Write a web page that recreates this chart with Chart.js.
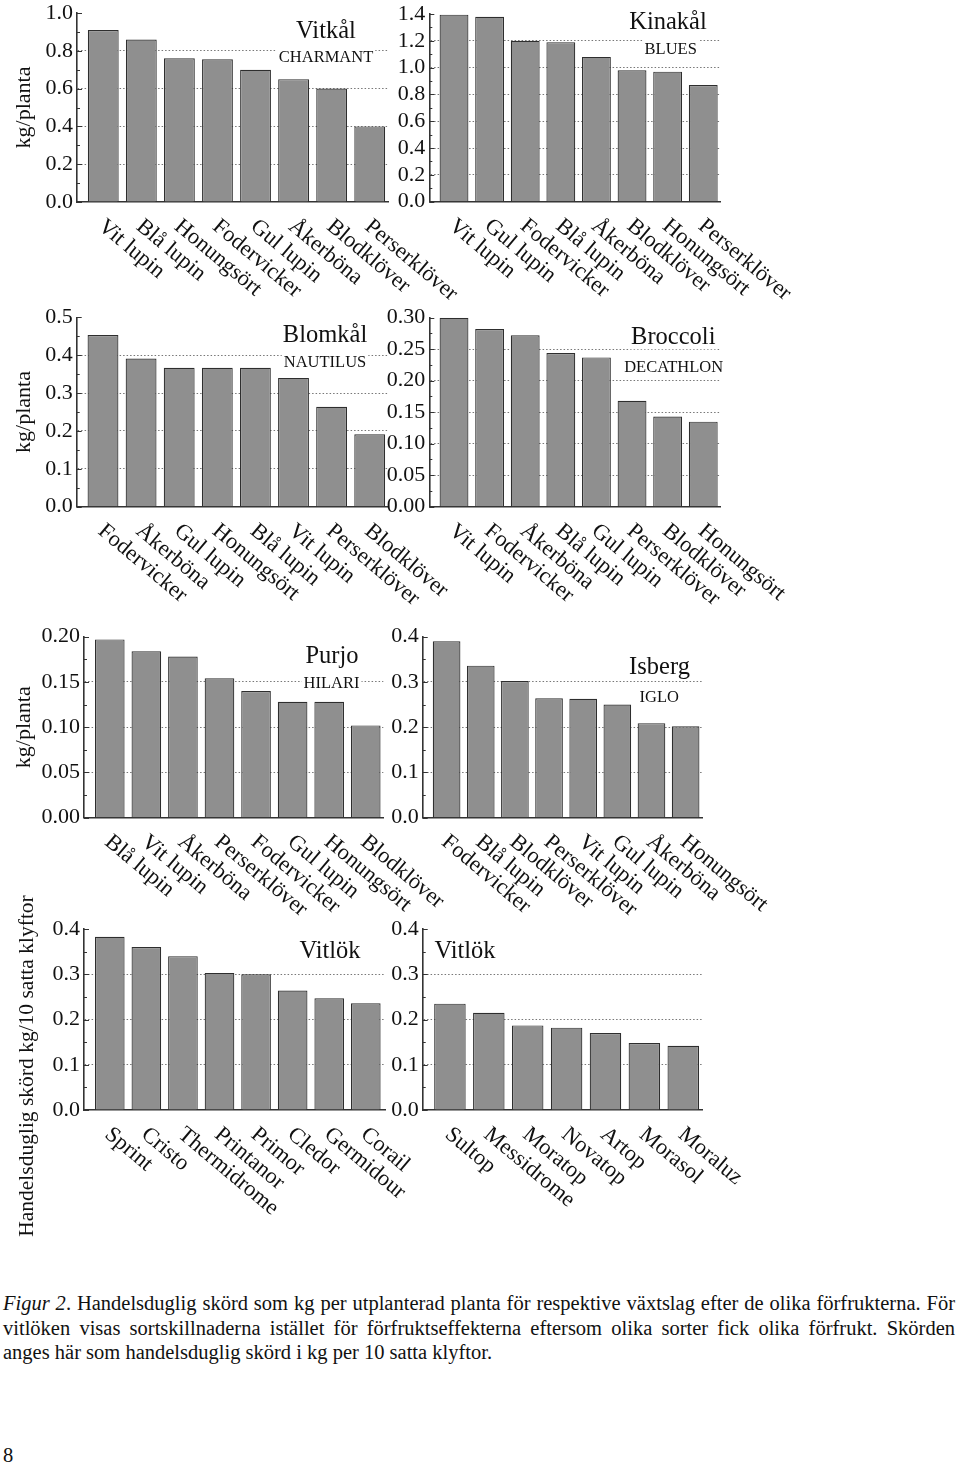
<!DOCTYPE html>
<html>
<head>
<meta charset="utf-8">
<script src="https://cdn.jsdelivr.net/npm/chart.js@4.4.0/dist/chart.umd.min.js"></script>
<style>
  html, body { margin: 0; padding: 0; background: #fff; }
  body { width: 960px; height: 1465px; position: relative; overflow: hidden;
         font-family: "Liberation Serif", "Times New Roman", serif; color: #111; }
  canvas { position: absolute; }
  .cap { position: absolute; left: 3px; font-size: 20.5px; line-height: 1; white-space: nowrap; }
  .j { width: 952px; text-align: justify; text-align-last: justify; }
</style>
</head>
<body>
<div id="ytor"></div>
<div class="cap j" style="top:1293px"><i>Figur 2</i>. Handelsduglig skörd som kg per utplanterad planta för respektive växtslag efter de olika förfrukterna. För</div>
<div class="cap j" style="top:1318px">vitlöken visas sortskillnaderna istället för förfruktseffekterna eftersom olika sorter fick olika förfrukt. Skörden</div>
<div class="cap" style="top:1342px">anges här som handelsduglig skörd i kg per 10 satta klyftor.</div>
<div class="cap" style="top:1445px">8</div>

<script>
// Data per panel (kg/planta resp. kg/10 satta klyftor)
const vitkalKat = ["Vit lupin", "Blå lupin", "Honungsört", "Fodervicker", "Gul lupin", "Åkerböna", "Blodklöver", "Perserklöver"];
const vitkalVarden = [0.91, 0.86, 0.76, 0.755, 0.70, 0.65, 0.60, 0.40];

const kinakalKat = ["Vit lupin", "Gul lupin", "Fodervicker", "Blå lupin", "Åkerböna", "Blodklöver", "Honungsört", "Perserklöver"];
const kinakalVarden = [1.395, 1.38, 1.20, 1.19, 1.08, 0.98, 0.97, 0.87];

const blomkalKat = ["Fodervicker", "Åkerböna", "Gul lupin", "Honungsört", "Blå lupin", "Vit lupin", "Perserklöver", "Blodklöver"];
const blomkalVarden = [0.453, 0.391, 0.367, 0.367, 0.367, 0.340, 0.264, 0.191];

const broccoliKat = ["Vit lupin", "Fodervicker", "Åkerböna", "Blå lupin", "Gul lupin", "Perserklöver", "Blodklöver", "Honungsört"];
const broccoliVarden = [0.300, 0.282, 0.272, 0.244, 0.237, 0.168, 0.143, 0.135];

const purjoKat = ["Blå lupin", "Vit lupin", "Åkerböna", "Perserklöver", "Fodervicker", "Gul lupin", "Honungsört", "Blodklöver"];
const purjoVarden = [0.197, 0.184, 0.178, 0.154, 0.140, 0.128, 0.128, 0.102];

const isbergKat = ["Fodervicker", "Blå lupin", "Blodklöver", "Perserklöver", "Vit lupin", "Gul lupin", "Åkerböna", "Honungsört"];
const isbergVarden = [0.390, 0.336, 0.302, 0.264, 0.263, 0.250, 0.209, 0.202];

const vitlok1Sorter = ["Sprint", "Cristo", "Thermidrome", "Printanor", "Primor", "Cledor", "Germidour", "Corail"];
const vitlok1Varden = [0.383, 0.360, 0.340, 0.303, 0.300, 0.264, 0.247, 0.236];

const vitlok2Sorter = ["Sultop", "Messidrome", "Moratop", "Novatop", "Artop", "Morasol", "Moraluz"];
const vitlok2Varden = [0.235, 0.215, 0.187, 0.182, 0.170, 0.148, 0.142];

// y-axlar: max, steg, decimaler
const yMax = [1.0, 1.4, 0.5, 0.30, 0.20, 0.4, 0.4, 0.4];
const ySteg = [0.2, 0.2, 0.1, 0.05, 0.05, 0.1, 0.1, 0.1];
const yDec = [1, 1, 1, 2, 2, 1, 1, 1];

// Layout: canvas [x, y, b, h], ritytan [vänster, topp, höger, botten] i sidkoordinater
const paneler = [
  { kat: vitkalKat, v: vitkalVarden, canvas: [0, -10, 480, 325], yta: [77, 13, 388, 202], xr: [-0.69, 7.48],
    texter: [["Vitkål", 326, 38.3, 24.5], ["CHARMANT", 326, 62.3, 16.5]], ytitel: "kg/planta" },
  { kat: kinakalKat, v: kinakalVarden, canvas: [360, -10, 600, 325], yta: [429.3, 14, 720.7, 201.7], xr: [-0.694, 7.49],
    texter: [["Kinakål", 668, 29.3, 24.5], ["BLUES", 670.7, 54, 16.5]] },
  { kat: blomkalKat, v: blomkalVarden, canvas: [0, 290, 480, 330], yta: [76.7, 317.3, 388, 506.7], xr: [-0.69, 7.48],
    texter: [["Blomkål", 325, 341.7, 24.5], ["NAUTILUS", 325, 366.7, 16.5]], ytitel: "kg/planta" },
  { kat: broccoliKat, v: broccoliVarden, canvas: [360, 290, 600, 330], yta: [429.3, 317.7, 720.7, 506.7], xr: [-0.694, 7.49],
    texter: [["Broccoli", 673.3, 344.3, 24.5], ["DECATHLON", 673.7, 372, 16.5]] },
  { kat: purjoKat, v: purjoVarden, canvas: [0, 605, 480, 325], yta: [84, 636.7, 383.3, 817.7], xr: [-0.705, 7.48],
    texter: [["Purjo", 332, 662.7, 24.5], ["HILARI", 331.5, 687.7, 16.5]], ytitel: "kg/planta" },
  { kat: isbergKat, v: isbergVarden, canvas: [360, 605, 600, 325], yta: [422.7, 636.7, 702.7, 817.7], xr: [-0.70, 7.50],
    texter: [["Isberg", 659.5, 674.3, 24.5], ["IGLO", 659.2, 701.7, 16.5]] },
  { kat: vitlok1Sorter, v: vitlok1Varden, canvas: [0, 885, 480, 375], yta: [84, 929, 385, 1110], xr: [-0.705, 7.525],
    texter: [["Vitlök", 330, 958.3, 24.5]],
    langTitel: ["Handelsduglig skörd kg/10 satta klyftor", 27, 1066, 21.5] },
  { kat: vitlok2Sorter, v: vitlok2Varden, canvas: [360, 885, 600, 375], yta: [422.7, 929, 702.7, 1110], xr: [-0.70, 6.5],
    texter: [["Vitlök", 465, 958.3, 24.5]] }
];

const FONT = '"Liberation Serif", "Times New Roman", serif';
const VINKEL = 40;

// ritar texter med vit bakgrund, inåtriktade ticks och snedställda kategorinamn
const dekor = {
  id: 'dekor',
  beforeDatasetsDraw(chart, args, o) {
    const ctx = chart.ctx;
    ctx.save();
    o.texter.forEach(([s, cx, by, size]) => {
      ctx.font = size + 'px ' + FONT;
      ctx.textAlign = 'center';
      ctx.textBaseline = 'alphabetic';
      const m = ctx.measureText(s);
      const px = cx - o.dx, py = by - o.dy;
      ctx.fillStyle = '#fff';
      ctx.fillRect(px - m.width / 2 - 2, py - m.fontBoundingBoxAscent + 1,
                   m.width + 4, m.fontBoundingBoxAscent + m.fontBoundingBoxDescent - 1);
      ctx.fillStyle = '#111';
      ctx.fillText(s, px, py);
    });
    ctx.restore();
  },
  afterDraw(chart, args, o) {
    const { ctx, chartArea: a, scales: { x, y } } = chart;
    ctx.save();
    // ticks inåt
    ctx.strokeStyle = '#333';
    ctx.lineWidth = 1.2;
    const t = y.ticks.map(k => k.value);
    ctx.beginPath();
    t.forEach((v, i) => {
      const py = Math.round(y.getPixelForValue(v)) + 0.5;
      ctx.moveTo(a.left, py); ctx.lineTo(a.left + 5, py);
      if (i < t.length - 1) {
        const pm = Math.round(y.getPixelForValue((v + t[i + 1]) / 2)) + 0.5;
        ctx.moveTo(a.left, pm); ctx.lineTo(a.left + 3, pm);
      }
    });
    ctx.stroke();

    // kategorinamn
    ctx.fillStyle = '#111';
    ctx.font = '22.5px ' + FONT;
    ctx.textAlign = 'left';
    ctx.textBaseline = 'top';
    o.etiketter.forEach((s, i) => {
      ctx.save();
      ctx.translate(x.getPixelForValue(i) + 5, a.bottom + 13);
      ctx.rotate(VINKEL * Math.PI / 180);
      ctx.fillText(s, 0, 0);
      ctx.restore();
    });

    // lång y-titel (vitlök)
    if (o.langTitel) {
      const [s, cx, cy, size] = o.langTitel;
      ctx.font = size + 'px ' + FONT;
      ctx.textAlign = 'center';
      ctx.textBaseline = 'middle';
      ctx.translate(cx - o.dx, cy - o.dy);
      ctx.rotate(-Math.PI / 2);
      ctx.fillText(s, 0, 0);
    }
    ctx.restore();
  }
};

paneler.forEach((p, n) => {
  const [cx, cy, cw, ch] = p.canvas;
  const [l, tp, r, b] = p.yta;
  const cv = document.createElement('canvas');
  cv.width = cw; cv.height = ch;
  cv.style.left = cx + 'px'; cv.style.top = cy + 'px';
  cv.style.width = cw + 'px'; cv.style.height = ch + 'px';
  document.getElementById('ytor').appendChild(cv);

  const max = yMax[n], dec = yDec[n];
  const axelBredd = l - cx;

  new Chart(cv.getContext('2d'), {
    type: 'bar',
    data: {
      datasets: [{
        data: p.v.map((v, i) => ({ x: i, y: v })),
        backgroundColor: '#8f8f8f',
        borderColor: '#2e2e2e',
        borderWidth: 1.2,
        barPercentage: 0.81,
        categoryPercentage: 1
      }]
    },
    options: {
      responsive: false,
      animation: false,
      layout: { padding: { left: 0, top: tp - cy, right: cx + cw - r, bottom: cy + ch - b } },
      plugins: {
        legend: { display: false },
        tooltip: { enabled: false },
        dekor: { texter: p.texter, etiketter: p.kat, langTitel: p.langTitel, dx: cx, dy: cy }
      },
      scales: {
        x: {
          type: 'linear',
          min: p.xr[0], max: p.xr[1],
          offset: false,
          grid: { display: false },
          ticks: { display: false },
          border: { display: true, color: '#333', width: 1.6 },
          afterFit: s => { s.height = 0; }
        },
        y: {
          min: 0, max: max,
          ticks: {
            stepSize: ySteg[n],
            autoSkip: false,
            maxTicksLimit: 20,
            padding: 4,
            color: '#111',
            font: { family: FONT, size: 22 },
            callback: v => v.toFixed(dec)
          },
          grid: {
            drawTicks: false,
            lineWidth: 1,
            color: c => (c.tick && (Math.abs(c.tick.value) < 1e-9 || Math.abs(c.tick.value - max) < 1e-9)) ? 'rgba(0,0,0,0)' : '#777'
          },
          border: { display: true, color: '#333', width: 1.6, dash: [1.5, 2] },
          title: {
            display: !!p.ytitel,
            text: p.ytitel || '',
            color: '#111',
            font: { family: FONT, size: 22 },
            padding: { top: 11, bottom: 0 }
          },
          afterFit: s => { s.width = axelBredd; }
        }
      }
    },
    plugins: [dekor]
  });
});
</script>
</body>
</html>
